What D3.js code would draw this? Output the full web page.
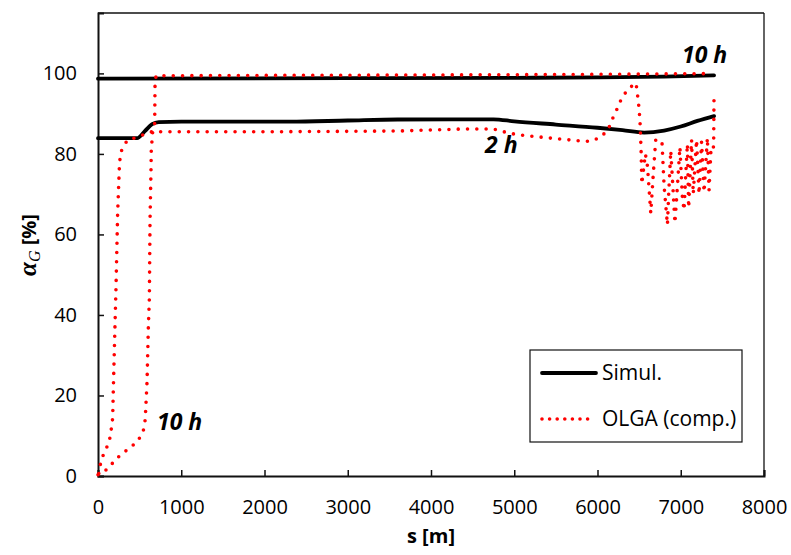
<!DOCTYPE html>
<html>
<head>
<meta charset="utf-8">
<script src="https://cdn.jsdelivr.net/npm/d3@7"></script>
<style>
  html, body { margin: 0; padding: 0; background: #fff; }
  svg { display: block; }
  .tick text { font-family: "Open Sans", sans-serif; font-size: 20px; fill: #000; }
</style>
</head>
<body>
<svg id="chart" width="791" height="555"></svg>
<script>
// Gas volume fraction along the pipeline, [s (m), alpha_G (%)]
const simul2h = [
  [0, 83.9], [470, 83.9], [560, 85.6], [650, 87.4], [730, 87.9], [1000, 88.0],
  [2300, 88.0], [3000, 88.3], [3600, 88.55], [4750, 88.6], [5000, 88.1],
  [5500, 87.3], [6000, 86.5], [6300, 85.9], [6560, 85.3], [6800, 85.8],
  [7000, 86.8], [7200, 88.2], [7400, 89.4]
];
const simul10h = [
  [0, 98.7], [3000, 98.8], [5000, 98.9], [6000, 99.0], [6800, 99.2], [7400, 99.5]
];
const olga2h = [
  [10, 0.6], [32, 3.3], [68, 5.5], [116, 7.6], [148, 9.8], [176, 14.3],
  [184, 21.4], [204, 37.3], [216, 46.6], [236, 65.3], [256, 76.4], [264, 78.7],
  [285, 81.0], [352, 83.4], [432, 83.9], [537, 84.7], [645, 85.5], [1000, 85.5],
  [2000, 85.5], [3000, 85.6], [3627, 85.7], [4400, 86.2], [4745, 86.2],
  [4950, 85.1], [5070, 84.7], [5400, 84.0], [5850, 83.1], [5950, 83.3],
  [6050, 84.4], [6130, 86.1], [6170, 88.3], [6222, 90.5], [6262, 92.6],
  [6318, 94.7], [6378, 96.3], [6463, 97.6], [6492, 92.8], [6510, 88.4],
  [6525, 80.0], [6532, 72.5], [6575, 80.0], [6600, 77.0], [6640, 65.3],
  [6670, 75.0], [6700, 83.6], [6740, 83.0], [6775, 82.8], [6800, 72.0],
  [6840, 62.4], [6855, 70.0], [6880, 80.8], [6905, 72.0], [6930, 62.8],
  [6960, 72.0], [6990, 81.7], [7020, 69.0], [7040, 66.0], [7060, 75.0],
  [7080, 82.5], [7095, 66.6], [7130, 83.5], [7150, 70.0], [7190, 83.5],
  [7220, 70.0], [7250, 83.0], [7280, 70.5], [7320, 84.0], [7340, 71.0],
  [7365, 82.0], [7395, 81.7], [7400, 95.3]
];
const olga10h = [
  [0, 0.3], [128, 1.9], [196, 3.8], [276, 5.3], [364, 6.7], [448, 8.1],
  [520, 10.0], [556, 12.0], [568, 14.3], [589, 23.4], [605, 37.1], [617, 44.1],
  [625, 63.6], [637, 76.4], [640, 81.0], [657, 85.5], [681, 87.6], [685, 97.1],
  [697, 99.4], [2000, 99.5], [4000, 99.6], [6000, 99.75], [7000, 99.9], [7355, 99.95]
];
const xTicks = [0, 1000, 2000, 3000, 4000, 5000, 6000, 7000, 8000];
const yTicks = [0, 20, 40, 60, 80, 100];
const legendNames = ["Simul.", "OLGA (comp.)"];

const svg = d3.select("#chart");
const plotLeft = 98, plotRight = 764, plotTop = 13, plotBottom = 476;

const x = d3.scaleLinear().domain([0, 8000]).range([plotLeft, plotRight]);
const y = d3.scaleLinear().domain([0, 115]).range([plotBottom, plotTop]);

// frame
svg.append("line").attr("x1", plotLeft).attr("x2", plotRight).attr("y1", plotTop).attr("y2", plotTop)
  .attr("stroke", "#111").attr("stroke-width", 1.5);
svg.append("line").attr("x1", plotRight).attr("x2", plotRight).attr("y1", plotTop).attr("y2", plotBottom)
  .attr("stroke", "#111").attr("stroke-width", 1.3);

// axes with inward ticks
const xAxis = d3.axisBottom(x).tickValues(xTicks).tickFormat(d3.format("d"))
  .tickSize(-6).tickPadding(24);
const gx = svg.append("g").attr("transform", `translate(0,${plotBottom})`).call(xAxis);
gx.select(".domain").attr("stroke", "#111").attr("stroke-width", 2);
gx.selectAll(".tick line").attr("stroke", "#111").attr("stroke-width", 1.5);

const yAxis = d3.axisLeft(y).tickValues(yTicks).tickFormat(d3.format("d"))
  .tickSize(-6).tickPadding(21);
const gy = svg.append("g").attr("transform", `translate(${plotLeft},0)`).call(yAxis);
gy.select(".domain").attr("stroke", "#111").attr("stroke-width", 2);
gy.selectAll(".tick line").attr("stroke", "#111").attr("stroke-width", 1.5);

const line = d3.line().x(d => x(d[0])).y(d => y(d[1])).curve(d3.curveMonotoneX);
const lineRaw = d3.line().x(d => x(d[0])).y(d => y(d[1]));

// simulation curves
[simul10h, simul2h].forEach(ser => {
  svg.append("path").datum(ser).attr("d", line)
    .attr("fill", "none").attr("stroke", "#000").attr("stroke-width", 3.8)
    .attr("stroke-linejoin", "round").attr("stroke-linecap", "round");
});

// OLGA curves (dotted)
[olga10h, olga2h].forEach(ser => {
  svg.append("path").datum(ser).attr("d", lineRaw)
    .attr("fill", "none").attr("stroke", "#ff0000").attr("stroke-width", 3.6)
    .attr("stroke-dasharray", "0 9.3").attr("stroke-linecap", "round")
    .attr("stroke-linejoin", "round");
});

// curve labels
const lab = (txt, px, py) => svg.append("text").attr("x", px).attr("y", py)
  .attr("font-family", "'Open Sans', sans-serif").attr("font-size", 23)
  .attr("font-weight", "bold").attr("font-style", "italic").attr("fill", "#000").text(txt);
lab("10 h", 682, 63);
lab("2 h", 485, 153);
lab("10 h", 157, 430);

// axis titles
svg.append("text").attr("x", (plotLeft + plotRight) / 2).attr("y", 543)
  .attr("text-anchor", "middle").attr("font-family", "'Open Sans', sans-serif")
  .attr("font-size", 20).attr("font-weight", "bold").attr("fill", "#000").text("s [m]");

const yt = svg.append("text").attr("transform", "translate(36,245) rotate(-90)")
  .attr("text-anchor", "middle").attr("fill", "#000");
yt.append("tspan").attr("font-family", "'Liberation Serif', serif").attr("font-style", "italic")
  .attr("font-weight", "bold").attr("font-size", 25).text("α");
yt.append("tspan").attr("font-family", "'Liberation Serif', serif").attr("font-style", "italic")
  .attr("font-size", 16).attr("dy", 4).text("G");
yt.append("tspan").attr("font-family", "'Open Sans', sans-serif").attr("font-weight", "bold")
  .attr("font-size", 20).attr("dy", -4).text(" [%]");

// legend
const lg = svg.append("g");
lg.append("rect").attr("x", 530).attr("y", 350).attr("width", 212).attr("height", 92)
  .attr("fill", "#fff").attr("stroke", "#111").attr("stroke-width", 1.2);
lg.append("line").attr("x1", 542).attr("x2", 596).attr("y1", 373).attr("y2", 373)
  .attr("stroke", "#000").attr("stroke-width", 3.8).attr("stroke-linecap", "round");
lg.append("line").attr("x1", 542).attr("x2", 592).attr("y1", 419).attr("y2", 419)
  .attr("stroke", "#ff0000").attr("stroke-width", 3.6).attr("stroke-dasharray", "0 7.6")
  .attr("stroke-linecap", "round");
lg.selectAll("text.lt").data(legendNames).join("text").attr("class", "lt")
  .attr("x", 602).attr("y", (d, i) => 380 + i * 46)
  .attr("font-family", "'Open Sans', sans-serif").attr("font-size", 21).attr("fill", "#000")
  .text(d => d);
</script>
</body>
</html>
